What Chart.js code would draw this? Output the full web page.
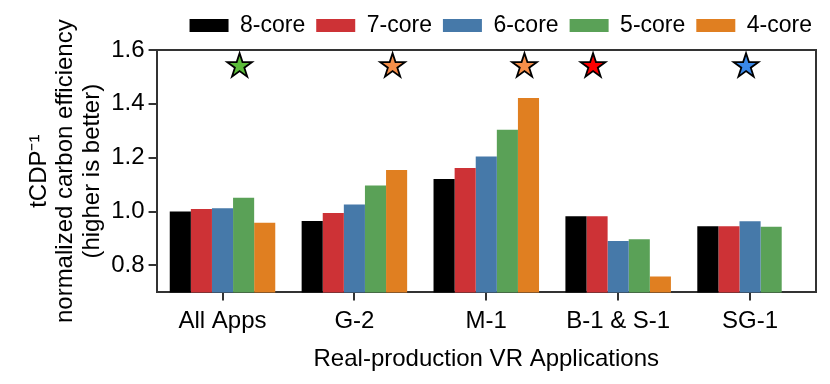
<!DOCTYPE html>
<html>
<head>
<meta charset="utf-8">
<script src="https://cdn.jsdelivr.net/npm/chart.js@4.4.1/dist/chart.umd.min.js"></script>
<style>
  html, body { margin: 0; padding: 0; background: #fff; }
  #wrap { width: 830px; height: 384px; }
</style>
</head>
<body>
<div id="wrap"><canvas id="myChart" width="830" height="384"></canvas></div>
<script>
// data
const apps = ['All Apps', 'G-2', 'M-1', 'B-1 & S-1', 'SG-1'];
const seriesNames = ['8-core', '7-core', '6-core', '5-core', '4-core'];
const core8 = [1.000, 0.965, 1.121, 0.983, 0.946];
const core7 = [1.010, 0.995, 1.162, 0.983, 0.946];
const core6 = [1.012, 1.026, 1.205, 0.891, 0.964];
const core5 = [1.051, 1.097, 1.304, 0.897, 0.944];
const core4 = [0.959, 1.154, 1.422, 0.759, null];
const seriesColors = ['#000000', '#cd3236', '#4679a9', '#5aa157', '#e07f21'];

// best config per app (series index) marked with a star
const starSeries = [3, 4, 4, 1, 2];
const starLevel = [1.54, 1.54, 1.54, 1.54, 1.54];
const starColors = ['#5cbc3a', '#f68f4a', '#f68f4a', '#ff0000', '#3a88e8'];

const yTicks = [0.8, 1.0, 1.2, 1.4, 1.6];

const FONT = '"Liberation Sans", Arial, sans-serif';
const AXIS = '#333333';

document.addEventListener('DOMContentLoaded', function () {
    const ctx = document.getElementById('myChart').getContext('2d');
    const values = [core8, core7, core6, core5, core4];

    const datasets = seriesNames.map(function (name, i) {
        return {
            label: name,
            data: values[i],
            backgroundColor: seriesColors[i],
            borderWidth: 0,
            categoryPercentage: 0.8,
            barPercentage: 1.0
        };
    });

    // a bit more room under the legend, and nudge it right
    const legendGap = {
        id: 'legendGap',
        beforeInit: function (chart) {
            const fit = chart.legend.fit;
            chart.legend.fit = function () {
                fit.call(this);
                this.height += 3;
            };
        },
        afterLayout: function (chart) {
            chart.legend.left += 7;
            chart.legend.right += 7;
        }
    };

    // box on top/right + stars over the winning bars
    const extras = {
        id: 'extras',
        afterDatasetsDraw: function (chart) {
            const c = chart.ctx;
            const area = chart.chartArea;
            c.save();
            c.strokeStyle = AXIS;
            c.lineWidth = 2;
            c.beginPath();
            c.moveTo(area.left, area.top);
            c.lineTo(area.right, area.top);
            c.lineTo(area.right, area.bottom);
            c.stroke();

            for (let i = 0; i < apps.length; i++) {
                const bar = chart.getDatasetMeta(starSeries[i]).data[i];
                const x = bar.x - 4;
                const y = chart.scales.y.getPixelForValue(starLevel[i]);
                drawStar(c, x, y, 13, starColors[i]);
            }
            c.restore();
        }
    };

    function drawStar(c, x, y, R, color) {
        const r = R * 0.382;
        c.beginPath();
        for (let k = 0; k < 10; k++) {
            const rad = k % 2 === 0 ? R : r;
            const a = -Math.PI / 2 + k * Math.PI / 5;
            const px = x + rad * Math.cos(a);
            const py = y + rad * Math.sin(a);
            if (k === 0) c.moveTo(px, py); else c.lineTo(px, py);
        }
        c.closePath();
        c.fillStyle = color;
        c.fill();
        c.lineWidth = 1.8;
        c.lineJoin = 'miter';
        c.strokeStyle = '#000';
        c.stroke();
    }

    new Chart(ctx, {
        type: 'bar',
        data: { labels: apps, datasets: datasets },
        plugins: [legendGap, extras],
        options: {
            responsive: false,
            animation: false,
            layout: { padding: { top: 3, right: 14, left: 26, bottom: 10 } },
            plugins: {
                tooltip: { enabled: false },
                legend: {
                    position: 'top',
                    align: 'end',
                    labels: {
                        color: '#000',
                        font: { family: FONT, size: 23 },
                        boxWidth: 39,
                        boxHeight: 13,
                        padding: 11
                    }
                }
            },
            scales: {
                x: {
                    grid: {
                        display: true,
                        drawOnChartArea: false,
                        offset: false,
                        color: AXIS,
                        lineWidth: 2,
                        tickLength: 8
                    },
                    border: { color: AXIS, width: 2 },
                    ticks: {
                        color: '#000',
                        font: { family: FONT, size: 24 },
                        padding: 7,
                        maxRotation: 0
                    },
                    title: {
                        display: true,
                        text: 'Real-production VR Applications',
                        color: '#000',
                        font: { family: FONT, size: 24 },
                        padding: { top: 2, bottom: 0 }
                    }
                },
                y: {
                    min: 0.7,
                    max: 1.6,
                    afterBuildTicks: function (axis) {
                        axis.ticks = yTicks.map(function (v) { return { value: v }; });
                    },
                    grid: {
                        display: true,
                        drawOnChartArea: false,
                        color: AXIS,
                        lineWidth: 2,
                        tickLength: 8
                    },
                    border: { color: AXIS, width: 2 },
                    ticks: {
                        color: '#000',
                        font: { family: FONT, size: 24 },
                        padding: 4,
                        callback: function (v) { return Number(v).toFixed(1); }
                    },
                    title: {
                        display: true,
                        text: ['tCDP\u207B\u00B9', 'normalized carbon efficiency', '(higher is better)'],
                        color: '#000',
                        font: { family: FONT, size: 24, lineHeight: 1.1 },
                        padding: { top: 0, bottom: 2 }
                    }
                }
            }
        }
    });
});
</script>
</body>
</html>
